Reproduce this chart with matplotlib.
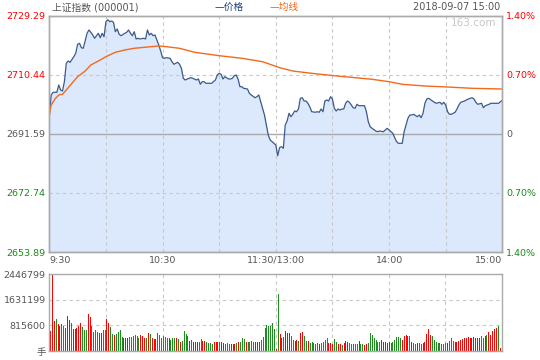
import matplotlib
matplotlib.use("Agg")
import matplotlib.pyplot as plt

plt.rcParams['font.family'] = ['DejaVu Sans', 'Noto Sans CJK SC']

# axis levels / labels
price_levels = [2729.29, 2710.44, 2691.59, 2672.74, 2653.89]
price_labels = ['2729.29', '2710.44', '2691.59', '2672.74', '2653.89']
pct_labels = ['1.40%', '0.70%', '0', '0.70%', '1.40%']
level_colors = ['#ff0000', '#ff0000', '#555555', '#1a8a1a', '#1a8a1a']
time_ticks = [0, 60, 120, 180, 240]
time_labels = ['9:30', '10:30', '11:30/13:00', '14:00', '15:00']
vol_levels = [2446799, 1631199, 815600, 0]
vol_labels = ['2446799', '1631199', '815600', '手']

# (minute since 9:30, price)
price_pts = [
    (0, 2697.06), (1, 2703.99), (2, 2704.85), (4, 2704.85), (5, 2707.18), (6, 2705.58), (7, 2705.26),
    (8, 2708.23), (9, 2714.10), (10, 2714.83), (11, 2714.42), (13, 2716.21), (14, 2717.29), (15, 2720.16),
    (16, 2720.48), (17, 2719.08), (18, 2718.89), (20, 2723.67), (21, 2724.73), (22, 2723.99), (23, 2723.13),
    (24, 2722.08), (26, 2723.67), (27, 2722.27), (28, 2723.67), (29, 2722.59), (30, 2727.38), (31, 2728.01),
    (32, 2727.38), (33, 2727.60), (34, 2727.18), (35, 2724.18), (36, 2725.05), (37, 2723.36), (38, 2722.91),
    (40, 2723.67), (41, 2723.99), (42, 2724.73), (43, 2723.67), (44, 2722.91), (45, 2724.18), (46, 2721.86),
    (47, 2722.08), (48, 2721.86), (50, 2722.08), (51, 2721.86), (52, 2724.73), (53, 2723.13), (54, 2723.67),
    (55, 2722.91), (56, 2723.13), (58, 2719.94), (59, 2718.03), (60, 2715.89), (61, 2715.70), (62, 2715.89),
    (64, 2715.70), (65, 2714.61), (66, 2713.78), (68, 2714.42), (69, 2713.78), (70, 2712.51), (71, 2709.31),
    (72, 2708.77), (74, 2709.31), (75, 2709.51), (76, 2709.31), (78, 2708.77), (79, 2709.09), (80, 2707.40),
    (81, 2708.23), (82, 2708.23), (83, 2707.72), (85, 2707.72), (86, 2707.72), (88, 2708.77), (89, 2710.37),
    (90, 2710.91), (91, 2710.59), (92, 2709.09), (93, 2709.83), (95, 2709.09), (96, 2709.09), (97, 2709.31),
    (98, 2710.14), (99, 2710.37), (100, 2709.09), (101, 2706.63), (102, 2706.63), (103, 2706.12), (105, 2705.90),
    (106, 2704.53), (107, 2703.99), (109, 2703.12), (110, 2703.44), (111, 2703.99), (112, 2701.85), (114, 2697.60),
    (115, 2694.41), (116, 2691.22), (117, 2689.63), (118, 2689.08), (119, 2688.57), (120, 2688.03), (121, 2684.62),
    (122, 2687.17), (123, 2687.49), (124, 2686.98), (125, 2694.41), (126, 2695.69), (127, 2698.15), (128, 2697.06),
    (129, 2697.83), (130, 2698.88), (131, 2698.66), (132, 2699.52), (133, 2702.93), (134, 2703.12), (135, 2702.07),
    (136, 2702.07), (137, 2701.34), (138, 2700.25), (139, 2698.66), (141, 2698.47), (142, 2698.66), (143, 2698.47),
    (144, 2699.52), (145, 2698.66), (146, 2702.07), (147, 2702.39), (148, 2702.07), (149, 2703.44), (150, 2702.71),
    (151, 2699.74), (152, 2698.88), (153, 2699.52), (154, 2699.20), (155, 2699.52), (156, 2699.52), (157, 2701.34),
    (158, 2702.07), (159, 2701.66), (160, 2700.79), (161, 2699.93), (162, 2699.74), (163, 2701.02), (164, 2700.57),
    (166, 2700.57), (167, 2700.57), (168, 2698.66), (169, 2695.47), (170, 2693.87), (171, 2693.36), (173, 2692.50),
    (174, 2692.27), (175, 2692.50), (177, 2692.27), (178, 2692.82), (179, 2693.36), (180, 2692.82), (181, 2692.27),
    (182, 2691.76), (183, 2690.36), (184, 2689.08), (185, 2688.57), (187, 2688.57), (188, 2692.27), (189, 2694.41),
    (190, 2696.55), (191, 2697.60), (192, 2697.60), (193, 2697.83), (195, 2697.06), (196, 2697.60), (197, 2696.74),
    (198, 2698.15), (199, 2701.34), (200, 2702.71), (201, 2702.93), (203, 2702.07), (204, 2701.66), (205, 2701.34),
    (207, 2701.66), (208, 2701.02), (209, 2701.66), (210, 2700.79), (211, 2698.66), (212, 2697.83), (213, 2697.83),
    (215, 2698.47), (216, 2699.52), (217, 2700.79), (218, 2701.66), (220, 2702.07), (221, 2702.39), (222, 2702.71),
    (224, 2703.12), (225, 2702.71), (226, 2701.66), (227, 2701.02), (229, 2701.34), (230, 2699.93), (231, 2700.57),
    (233, 2701.02), (234, 2701.34), (235, 2701.34), (237, 2701.34), (238, 2701.34), (240, 2702.30),
]

avg_pts = [
    (0, 2697.60), (1, 2700.79), (3, 2702.71), (5, 2703.99), (7, 2704.21), (9, 2705.58), (12, 2707.72),
    (15, 2709.83), (19, 2711.64), (22, 2713.56), (26, 2714.83), (30, 2716.21), (35, 2717.61), (40, 2718.35),
    (45, 2718.89), (52, 2719.30), (58, 2719.62), (62, 2719.40), (69, 2718.89), (77, 2717.61), (90, 2716.53),
    (102, 2715.70), (113, 2714.61), (118, 2713.56), (122, 2712.70), (129, 2711.64), (139, 2710.91),
    (151, 2710.14), (162, 2709.51), (171, 2709.00), (180, 2708.23), (187, 2707.40), (199, 2706.86),
    (211, 2706.54), (224, 2706.12), (240, 2705.90),
]

# volume per minute (hands), r = up bar, g = down bar
vol_am = [
    638000, 2430000, 957000, 1020000, 851000, 808000, 872000, 808000, 745000, 1120000,
    989000, 904000, 702000, 702000, 745000, 798000, 883000, 777000, 670000, 670000,
    1170000, 1085000, 798000, 596000, 660000, 617000, 574000, 574000, 660000, 660000,
    1020000, 894000, 766000, 553000, 511000, 553000, 596000, 660000, 447000, 426000,
    426000, 404000, 447000, 447000, 468000, 511000, 489000, 426000, 511000, 468000,
    426000, 426000, 574000, 532000, 426000, 383000, 383000, 574000, 511000, 404000,
    468000, 447000, 404000, 404000, 362000, 404000, 426000, 426000, 383000, 277000,
    319000, 638000, 553000, 468000, 319000, 340000, 298000, 277000, 277000, 277000,
    383000, 319000, 319000, 277000, 255000, 255000, 234000, 277000, 277000, 277000,
    298000, 277000, 255000, 234000, 255000, 234000, 213000, 234000, 234000, 255000,
    277000, 298000, 426000, 383000, 277000, 277000, 298000, 319000, 298000, 277000,
    277000, 277000, 340000, 457000, 745000, 830000, 787000, 808000, 883000, 702000,
]
vol_am_colors = ("rrrgrrggrr" "rgrrrrrggg" "rrggggrrgg" "rrggrggggr" "rrggggggrr" "rgrgrrrggg"
                 "gggrgggrgr" "ggggrgrrrg" "grrggggrrr" "grrgggrrrg" "rgggrggggr" "rrgggggggg")
vol_noon = [53000, 1810000]
vol_noon_colors = "rg"
vol_pm = [
    553000, 426000, 457000, 638000, 585000, 585000, 479000, 351000, 319000, 340000,
    319000, 574000, 606000, 479000, 319000, 319000, 255000, 277000, 255000, 234000,
    255000, 234000, 245000, 298000, 340000, 426000, 255000, 255000, 213000, 383000,
    277000, 234000, 234000, 191000, 255000, 319000, 277000, 255000, 234000, 234000,
    234000, 234000, 319000, 213000, 213000, 191000, 234000, 255000, 574000, 511000,
    404000, 351000, 298000, 277000, 351000, 277000, 277000, 255000, 277000, 255000,
    277000, 340000, 457000, 457000, 426000, 340000, 468000, 511000, 468000, 468000,
    298000, 255000, 234000, 255000, 255000, 234000, 255000, 277000, 532000, 702000,
    511000, 468000, 362000, 298000, 255000, 255000, 213000, 234000, 255000, 255000,
    319000, 426000, 319000, 298000, 298000, 319000, 340000, 383000, 404000, 426000,
    447000, 426000, 426000, 447000, 404000, 426000, 426000, 468000, 426000, 468000,
    511000, 596000, 511000, 638000, 702000, 745000, 808000, 85000,
]
vol_pm_colors = ("rrgrrrggrr" "grrggrgggg" "grggggrrrg" "grrgrrrggg" "ggrggrrggg" "ggggrrrrrg"
                 "gggggrrrrg" "rggrggrrrr" "rggggggggr" "gggrrrrrrr" "rrrrrrrggr" "grrrrrgr")
vol_close = [1400000]
vol_close_colors = "r"

volumes = vol_am + vol_noon + vol_pm + vol_close
vol_colors = vol_am_colors + vol_noon_colors + vol_pm_colors + vol_close_colors
assert len(volumes) == len(vol_colors) == 241
bar_colors = ['#ff0000' if c == 'r' else '#1e8c1e' for c in vol_colors]

W, H = 540, 360
fig = plt.figure(figsize=(W / 100, H / 100), dpi=100)
ax = fig.add_axes([49.3 / W, 1 - 252 / H, 453 / W, 236.3 / H])
vax = fig.add_axes([49.3 / W, 1 - 351 / H, 453 / W, 76.7 / H])

grid_kw = dict(color='#c8c8c8', lw=0.8, ls=(0, (3, 3)), zorder=1)
spine_c = '#aaaaaa'

# price panel
px = [p[0] for p in price_pts]
py = [p[1] for p in price_pts]
ax.fill_between(px, py, price_levels[-1], color='#dce8fb', lw=0, zorder=0)
for m in range(30, 240, 30):
    ax.axvline(m, **grid_kw)
for lv in (price_levels[1], price_levels[3]):
    ax.axhline(lv, **grid_kw)
ax.axhline(price_levels[2], color=spine_c, lw=1.0, zorder=1)
ax.plot(px, py, color='#3a5a8c', lw=0.9, zorder=3)
ax.plot([a[0] for a in avg_pts], [a[1] for a in avg_pts], color='#f26a1b', lw=1.0, zorder=4)
ax.set_xlim(0, 240)
ax.set_ylim(price_levels[-1], price_levels[0])

ax.set_yticks(price_levels)
ax.set_yticklabels(price_labels, fontsize=6.8)
for t, c in zip(ax.get_yticklabels(), level_colors):
    t.set_color(c)
ax.set_xticks(time_ticks)
ax.set_xticklabels(time_labels, fontsize=6.8, color='#555555')
xt = ax.get_xticklabels()
xt[0].set_ha('left')
xt[-1].set_ha('right')
ax.tick_params(length=0, pad=2.6)

ax2 = ax.twinx()
ax2.set_ylim(price_levels[-1], price_levels[0])
ax2.set_yticks(price_levels)
ax2.set_yticklabels(pct_labels, fontsize=6.8)
for t, c in zip(ax2.get_yticklabels(), level_colors):
    t.set_color(c)
ax2.tick_params(length=0, pad=2.6)

# volume panel
vax.vlines(range(len(volumes)), 0, volumes, colors=bar_colors, lw=0.7,
           antialiased=False, snap=True, zorder=2)
for m in range(30, 240, 30):
    vax.axvline(m, **grid_kw)
for lv in vol_levels[1:3]:
    vax.axhline(lv, **grid_kw)
vax.set_xlim(-0.4, 240.4)
vax.set_ylim(0, vol_levels[0])
vax.set_xticks([])
vax.set_yticks(vol_levels)
vax.set_yticklabels(vol_labels, fontsize=6.8, color='#555555')
vax.tick_params(length=0, pad=2.6)

for a in (ax, ax2, vax):
    for s in a.spines.values():
        s.set_color(spine_c)
        s.set_linewidth(1.0)

# header
def ftext(x, y, s, **kw):
    fig.text(x / W, 1 - y / H, s, va='center', **kw)

ftext(52, 7, '上证指数 (000001)', ha='left', color='#555555', fontsize=7)
ftext(215, 7, '—价格', ha='left', color='#1f3d7a', fontsize=7)
ftext(270, 7, '—均线', ha='left', color='#f0640f', fontsize=7)
ftext(500, 7, '2018-09-07 15:00', ha='right', color='#555555', fontsize=7)
ftext(496, 23, '163.com', ha='right', color='#c8c8c8', fontsize=7.5)

fig.savefig('out.png', dpi=100)
